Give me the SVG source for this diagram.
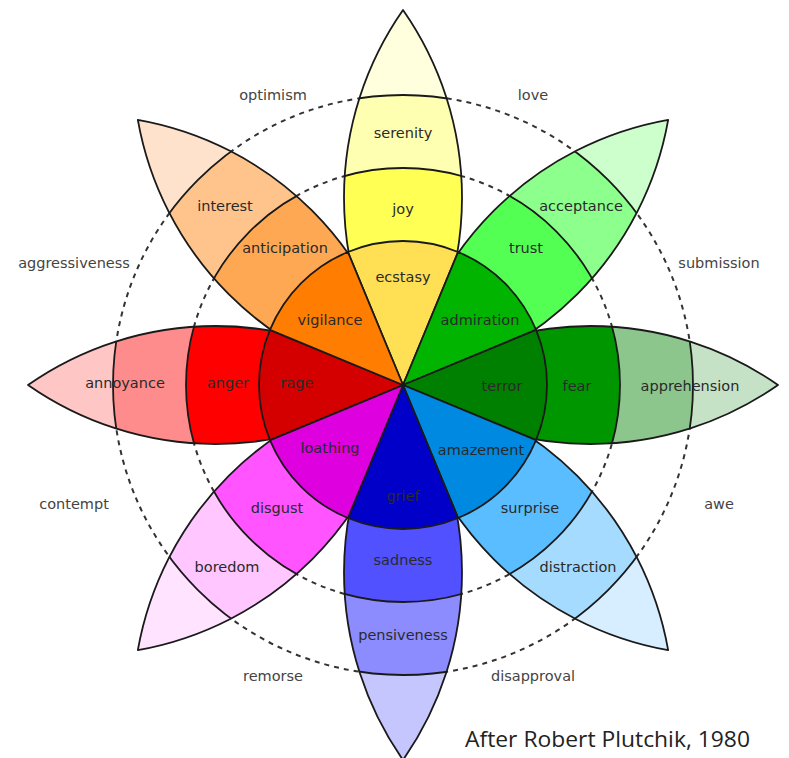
<svg xmlns="http://www.w3.org/2000/svg" xmlns:xlink="http://www.w3.org/1999/xlink" width="789" height="758" viewBox="0 0 789 758">
<style>
.ln{stroke:#1a1a1a;stroke-width:1.8;stroke-linejoin:round}
.dash{fill:none;stroke:#333;stroke-width:2;stroke-dasharray:5 5}
.lb{font-family:"DejaVu Sans",Verdana,sans-serif;font-size:14.5px;fill:#2a2a2a;text-anchor:middle}
.ol{font-family:"DejaVu Sans",Verdana,sans-serif;font-size:14.5px;fill:#444;text-anchor:middle}
.ttl{font-family:"Open Sans","Liberation Sans",sans-serif;font-size:21px;fill:#222}
</style>
<defs>
<path id="lens" d="M0,0 A327.4,327.4 0 0 1 0,-375 A327.4,327.4 0 0 1 0,0 Z"/>
<clipPath id="lensClip"><use href="#lens" xlink:href="#lens"/></clipPath>
<path id="core" d="M0,0 L-55.11,-133.04 A144,144 0 0 1 55.11,-133.04 Z"/>
</defs>
<rect width="789" height="758" fill="#fff"/>

<g id="connectors">
<circle class="dash" cx="403" cy="385" r="217"/>
<circle class="dash" cx="403" cy="385" r="290"/>
</g>

<g id="dyads">
<text class="ol" x="273" y="100">optimism</text>
<text class="ol" x="533" y="100">love</text>
<text class="ol" x="74" y="268">aggressiveness</text>
<text class="ol" x="719" y="268">submission</text>
<text class="ol" x="74" y="509">contempt</text>
<text class="ol" x="719" y="509">awe</text>
<text class="ol" x="273" y="681">remorse</text>
<text class="ol" x="533" y="681">disapproval</text>
</g>

<g id="petal-joy">
<g transform="translate(403,385)">
<use href="#lens" xlink:href="#lens" fill="#FFFFDD"/>
<g clip-path="url(#lensClip)">
<circle r="290" fill="#FFFFB1" class="ln"/>
<circle r="217" fill="#FFFF54" class="ln"/>
</g>
<use href="#lens" xlink:href="#lens" fill="none" class="ln"/>
</g>
<text class="lb" x="403" y="138">serenity</text>
<text class="lb" x="403" y="214">joy</text>
</g>

<g id="petal-trust">
<g transform="translate(403,385) rotate(45)">
<use href="#lens" xlink:href="#lens" fill="#CCFFCC"/>
<g clip-path="url(#lensClip)">
<circle r="290" fill="#8CFF8C" class="ln"/>
<circle r="217" fill="#54FF54" class="ln"/>
</g>
<use href="#lens" xlink:href="#lens" fill="none" class="ln"/>
</g>
<text class="lb" x="581" y="211">acceptance</text>
<text class="lb" x="526" y="253">trust</text>
</g>

<g id="petal-fear">
<g transform="translate(403,385) rotate(90)">
<use href="#lens" xlink:href="#lens" fill="#C6E2C6"/>
<g clip-path="url(#lensClip)">
<circle r="290" fill="#8CC68C" class="ln"/>
<circle r="217" fill="#009600" class="ln"/>
</g>
<use href="#lens" xlink:href="#lens" fill="none" class="ln"/>
</g>
<text class="lb" x="690" y="391">apprehension</text>
<text class="lb" x="577" y="391">fear</text>
</g>

<g id="petal-surprise">
<g transform="translate(403,385) rotate(135)">
<use href="#lens" xlink:href="#lens" fill="#D6EEFF"/>
<g clip-path="url(#lensClip)">
<circle r="290" fill="#A5DBFF" class="ln"/>
<circle r="217" fill="#59BDFF" class="ln"/>
</g>
<use href="#lens" xlink:href="#lens" fill="none" class="ln"/>
</g>
<text class="lb" x="578" y="572">distraction</text>
<text class="lb" x="530" y="513">surprise</text>
</g>

<g id="petal-sadness">
<g transform="translate(403,385) rotate(180)">
<use href="#lens" xlink:href="#lens" fill="#C6C6FF"/>
<g clip-path="url(#lensClip)">
<circle r="290" fill="#8C8CFF" class="ln"/>
<circle r="217" fill="#5151FF" class="ln"/>
</g>
<use href="#lens" xlink:href="#lens" fill="none" class="ln"/>
</g>
<text class="lb" x="403" y="640">pensiveness</text>
<text class="lb" x="403" y="565">sadness</text>
</g>

<g id="petal-disgust">
<g transform="translate(403,385) rotate(225)">
<use href="#lens" xlink:href="#lens" fill="#FFE3FF"/>
<g clip-path="url(#lensClip)">
<circle r="290" fill="#FFC6FF" class="ln"/>
<circle r="217" fill="#FF54FF" class="ln"/>
</g>
<use href="#lens" xlink:href="#lens" fill="none" class="ln"/>
</g>
<text class="lb" x="227" y="572">boredom</text>
<text class="lb" x="277" y="513">disgust</text>
</g>

<g id="petal-anger">
<g transform="translate(403,385) rotate(270)">
<use href="#lens" xlink:href="#lens" fill="#FFC6C6"/>
<g clip-path="url(#lensClip)">
<circle r="290" fill="#FF8C8C" class="ln"/>
<circle r="217" fill="#FF0000" class="ln"/>
</g>
<use href="#lens" xlink:href="#lens" fill="none" class="ln"/>
</g>
<text class="lb" x="125" y="388">annoyance</text>
<text class="lb" x="228" y="388">anger</text>
</g>

<g id="petal-anticipation">
<g transform="translate(403,385) rotate(315)">
<use href="#lens" xlink:href="#lens" fill="#FFE2CC"/>
<g clip-path="url(#lensClip)">
<circle r="290" fill="#FFC48C" class="ln"/>
<circle r="217" fill="#FFA854" class="ln"/>
</g>
<use href="#lens" xlink:href="#lens" fill="none" class="ln"/>
</g>
<text class="lb" x="225" y="211">interest</text>
<text class="lb" x="285" y="253">anticipation</text>
</g>

<g id="ecstasy">
<use href="#core" xlink:href="#core" transform="translate(403,385)" fill="#FFE054" class="ln"/>
<text class="lb" x="403" y="282">ecstasy</text>
</g>
<g id="admiration">
<use href="#core" xlink:href="#core" transform="translate(403,385) rotate(45)" fill="#00B400" class="ln"/>
<text class="lb" x="480" y="325">admiration</text>
</g>
<g id="terror">
<use href="#core" xlink:href="#core" transform="translate(403,385) rotate(90)" fill="#008000" class="ln"/>
<text class="lb" x="502" y="391">terror</text>
</g>
<g id="amazement">
<use href="#core" xlink:href="#core" transform="translate(403,385) rotate(135)" fill="#0089E0" class="ln"/>
<text class="lb" x="481" y="455">amazement</text>
</g>
<g id="grief">
<use href="#core" xlink:href="#core" transform="translate(403,385) rotate(180)" fill="#0000C8" class="ln"/>
<text class="lb" x="403" y="501">grief</text>
</g>
<g id="loathing">
<use href="#core" xlink:href="#core" transform="translate(403,385) rotate(225)" fill="#DE00DE" class="ln"/>
<text class="lb" x="330" y="453">loathing</text>
</g>
<g id="rage">
<use href="#core" xlink:href="#core" transform="translate(403,385) rotate(270)" fill="#D40000" class="ln"/>
<text class="lb" x="297" y="388">rage</text>
</g>
<g id="vigilance">
<use href="#core" xlink:href="#core" transform="translate(403,385) rotate(315)" fill="#FF7D00" class="ln"/>
<text class="lb" x="330" y="325">vigilance</text>
</g>

<text class="ttl" x="465" y="747" textLength="285" lengthAdjust="spacingAndGlyphs">After Robert Plutchik, 1980</text>
</svg>
